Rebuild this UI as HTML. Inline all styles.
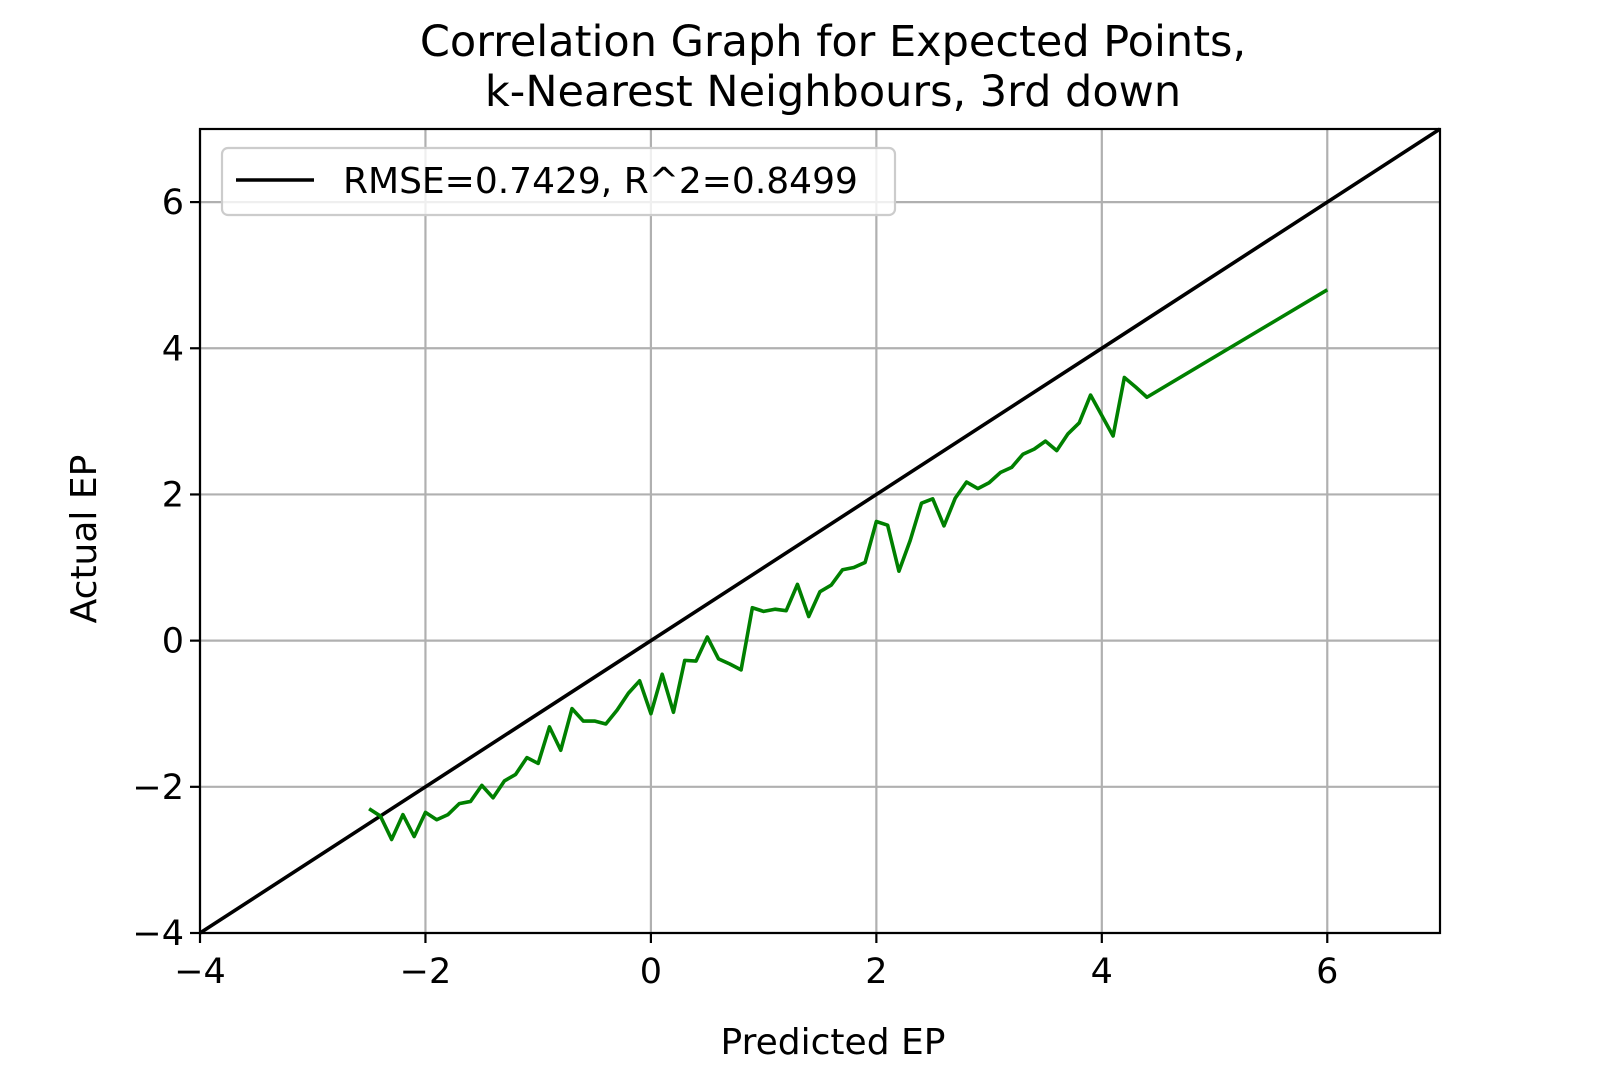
<!DOCTYPE html>
<html><head><meta charset="utf-8"><style>
body{margin:0;background:#fff}
svg{display:block;font-family:"DejaVu Sans","Liberation Sans",sans-serif}
</style></head><body>
<svg id="chart" width="1600" height="1067" viewBox="0 0 1600 1067">
<text x="833" y="56" font-size="43" text-anchor="middle">Correlation Graph for Expected Points,</text>
<text x="833" y="106" font-size="43" text-anchor="middle">k-Nearest Neighbours, 3rd down</text>
<g id="grid"></g>
<g id="ticks"></g>
<g id="series"></g>
<rect x="200" y="129" width="1240" height="804" fill="none" stroke="#000" stroke-width="2.2"/>
<text x="833" y="1054" font-size="36" text-anchor="middle">Predicted EP</text>
<text x="96" y="539" font-size="36" text-anchor="middle" transform="rotate(-90 96 539)">Actual EP</text>
<g>
<rect x="222" y="148" width="673" height="67" rx="6" fill="#fff" fill-opacity="0.8" stroke="#ccc" stroke-width="2.2"/>
<line x1="236" y1="180" x2="314" y2="180" stroke="#000" stroke-width="3.6"/>
<text x="343" y="193" font-size="36">RMSE=0.7429, R^2=0.8499</text>
</g>
</svg>
<script>
const xTicks=[-4,-2,0,2,4,6];
const yTicks=[-4,-2,0,2,4,6];
const xLabels=["\u22124","\u22122","0","2","4","6"];
const yLabels=["\u22124","\u22122","0","2","4","6"];
const identityX=[-4,7];
const predX=[-2.5,-2.4,-2.3,-2.2,-2.1,-2.0,-1.9,-1.8,-1.7,-1.6,-1.5,-1.4,-1.3,-1.2,-1.1,-1.0,-0.9,-0.8,-0.7,-0.6,-0.5,-0.4,-0.3,-0.2,-0.1,0.0,0.1,0.2,0.3,0.4,0.5,0.6,0.7,0.8,0.9,1.0,1.1,1.2,1.3,1.4,1.5,1.6,1.7,1.8,1.9,2.0,2.1,2.2,2.3,2.4,2.5,2.6,2.7,2.8,2.9,3.0,3.1,3.2,3.3,3.4,3.5,3.6,3.7,3.8,3.9,4.0,4.1,4.2,4.3,4.4,6.0];
const actualY=[-2.3,-2.4,-2.72,-2.38,-2.68,-2.35,-2.45,-2.38,-2.23,-2.2,-1.98,-2.15,-1.92,-1.83,-1.6,-1.68,-1.18,-1.5,-0.93,-1.1,-1.1,-1.14,-0.95,-0.72,-0.55,-1.0,-0.46,-0.98,-0.27,-0.28,0.05,-0.25,-0.32,-0.4,0.45,0.4,0.43,0.41,0.77,0.33,0.67,0.76,0.97,1.0,1.07,1.63,1.58,0.95,1.37,1.88,1.94,1.57,1.95,2.17,2.08,2.16,2.3,2.37,2.55,2.62,2.73,2.6,2.83,2.98,3.36,3.08,2.8,3.6,3.47,3.33,4.8];
const X0=200,X1=1440,Y0=933,Y1=129,xmin=-4,xmax=7,ymin=-4,ymax=7;
const sx=v=>X0+(v-xmin)/(xmax-xmin)*(X1-X0);
const sy=v=>Y0-(v-ymin)/(ymax-ymin)*(Y0-Y1);
const NS="http://www.w3.org/2000/svg";
function mk(tag,attrs,parent){const e=document.createElementNS(NS,tag);for(const k in attrs)e.setAttribute(k,attrs[k]);parent.appendChild(e);return e;}
const grid=document.getElementById('grid'),ticks=document.getElementById('ticks'),series=document.getElementById('series');
xTicks.forEach((t,i)=>{
 const g=mk('line',{x1:sx(t),x2:sx(t),y1:Y1,y2:Y0,stroke:'#b0b0b0','stroke-width':2.2},grid);
 
 
 const tk=mk('line',{x1:sx(t),x2:sx(t),y1:Y0,y2:Y0+10,stroke:'#000','stroke-width':2.2},ticks);
 
 
 const tx=mk('text',{x:sx(t),y:Y0+50,'font-size':35,'text-anchor':'middle'},ticks);
 tx.textContent=xLabels[i];
 
 
});
yTicks.forEach((t,i)=>{
 const g=mk('line',{x1:X0,x2:X1,y1:sy(t),y2:sy(t),stroke:'#b0b0b0','stroke-width':2.2},grid);
 
 
 const tk=mk('line',{x1:X0-10,x2:X0,y1:sy(t),y2:sy(t),stroke:'#000','stroke-width':2.2},ticks);
 
 
 const tx=mk('text',{x:X0-16,y:sy(t)+12,'font-size':35,'text-anchor':'end'},ticks);
 tx.textContent=yLabels[i];
 
 
});
const id=mk('polyline',{points:identityX.map(v=>sx(v)+','+sy(v)).join(' '),fill:'none',stroke:'#000','stroke-width':3.6},series);


const pl=mk('polyline',{points:predX.map((v,i)=>sx(v)+','+sy(actualY[i])).join(' '),fill:'none',stroke:'#008000','stroke-width':3.6,'stroke-linejoin':'round'},series);


</script>
</body></html>
